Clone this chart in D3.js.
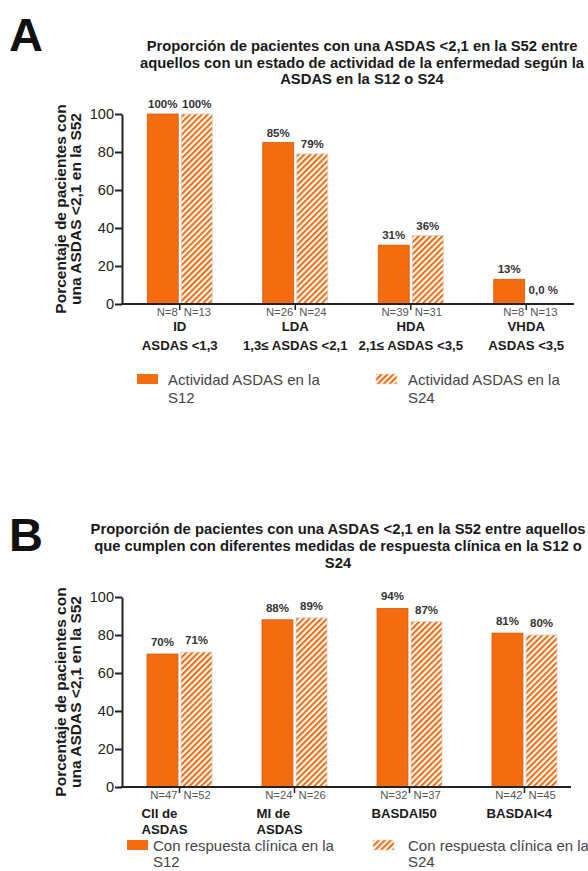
<!DOCTYPE html>
<html><head><meta charset="utf-8">
<script src="https://cdn.jsdelivr.net/npm/d3@7"></script>
<style>
html,body{margin:0;padding:0;background:#fff;}
svg text{font-family:"Liberation Sans",Arial,sans-serif;}
</style></head>
<body><svg id="c" width="588" height="871"></svg>
<script>
// ---- Data ----
const yTicks = [0, 20, 40, 60, 80, 100];
const catsA = [["ID", "ASDAS <1,3"], ["LDA", "1,3≤ ASDAS <2,1"], ["HDA", "2,1≤ ASDAS <3,5"], ["VHDA", "ASDAS <3,5"]];
const s12A = [100, 85, 31, 13];
const s24A = [100, 79, 36, 0];
const lab12A = ["100%", "85%", "31%", "13%"];
const lab24A = ["100%", "79%", "36%", "0,0 %"];
const n12A = ["N=8", "N=26", "N=39", "N=8"];
const n24A = ["N=13", "N=24", "N=31", "N=13"];
const titleA = ["Proporción de pacientes con una ASDAS <2,1 en la S52 entre", "aquellos con un estado de actividad de la enfermedad según la", "ASDAS en la S12 o S24"];
const legendA = [["Actividad ASDAS en la", "S12"], ["Actividad ASDAS en la", "S24"]];

const catsB = [["CII de", "ASDAS"], ["MI de", "ASDAS"], ["BASDAI50"], ["BASDAI<4"]];
const s12B = [70, 88, 94, 81];
const s24B = [71, 89, 87, 80];
const lab12B = ["70%", "88%", "94%", "81%"];
const lab24B = ["71%", "89%", "87%", "80%"];
const n12B = ["N=47", "N=24", "N=32", "N=42"];
const n24B = ["N=52", "N=26", "N=37", "N=45"];
const titleB = ["Proporción de pacientes con una ASDAS <2,1 en la S52 entre aquellos", "que cumplen con diferentes medidas de respuesta clínica en la S12 o", "S24"];
const legendB = [["Con respuesta clínica en la", "S12"], ["Con respuesta clínica en la", "S24"]];
const yTitle = ["Porcentaje de pacientes con", "una ASDAS <2,1 en la S52"];

// ---- Style ----
const ORANGE = "#F36C10";
const FONT = '"Liberation Sans",Arial,sans-serif';
const svg = d3.select("#c");
const defs = svg.append("defs");
const pat = defs.append("pattern").attr("id", "hatch").attr("patternUnits", "userSpaceOnUse")
  .attr("width", 4.2).attr("height", 4.2).attr("patternTransform", "rotate(45)");
pat.append("rect").attr("width", 4.2).attr("height", 4.2).attr("fill", "#fff");
pat.append("rect").attr("width", 2.1).attr("height", 4.2).attr("fill", ORANGE);

function panel(o) {
  const g = svg.append("g");
  g.append("text").attr("x", 9).attr("y", o.letterY).attr("font-size", 47).attr("font-weight", "bold")
    .attr("fill", "#111").text(o.letter);
  o.title.forEach((t, i) => g.append("text").attr("x", o.titleX).attr("y", o.titleY + i * o.titleLH)
    .attr("text-anchor", "middle").attr("font-size", o.titleFS).attr("font-weight", "bold").attr("fill", "#1a1a1a").text(t));

  const y = d3.scaleLinear().domain([0, 100]).range([o.y0, o.y0 - 190]);
  const x = d3.scaleBand().domain(d3.range(o.s12.length)).range([o.xL, o.xL + 4 * o.step]).padding(0);
  const inner = d3.scaleBand().domain([0, 1]).range([-32.5, 32.5]).paddingInner(0.09);

  const ax = g.append("g").attr("transform", `translate(${o.xL},0)`)
    .call(d3.axisLeft(y).tickValues(yTicks).tickSize(7).tickSizeOuter(0).tickPadding(1));
  ax.select(".domain").attr("stroke", "#222").attr("stroke-width", 2);
  ax.selectAll(".tick line").attr("stroke", "#222").attr("stroke-width", 2);
  ax.selectAll(".tick text").attr("font-size", 14.5).attr("fill", "#222").style("font-family", FONT);

  const cy = o.y0 - 95 + o.yTitleShift;
  yTitle.forEach((t, i) => g.append("text")
    .attr("transform", `translate(${o.yTitleX + i * 15},${cy}) rotate(-90)`)
    .attr("text-anchor", "middle").attr("font-size", 15.5).attr("font-weight", "bold").attr("fill", "#1a1a1a").text(t));

  const series = [o.s12, o.s24];
  const labs = [o.lab12, o.lab24];
  const ns = [o.n12, o.n24];
  series.forEach((arr, si) => {
    g.selectAll(null).data(arr).enter().append("rect")
      .attr("x", (d, i) => x(i) + x.bandwidth() / 2 + inner(si))
      .attr("y", d => y(d)).attr("width", inner.bandwidth()).attr("height", d => y(0) - y(d))
      .attr("fill", si === 0 ? ORANGE : "url(#hatch)")
      .attr("stroke", si === 0 ? "#d95a0a" : "#cfcfcf").attr("stroke-width", 0.8);
    g.selectAll(null).data(arr).enter().append("text")
      .attr("x", (d, i) => x(i) + x.bandwidth() / 2 + inner(si) + inner.bandwidth() / 2)
      .attr("y", (d, i) => y(d) - o.labOff - (labs[si][i].indexOf(" ") > 0 ? 4 : 0))
      .attr("text-anchor", "middle").attr("font-size", 11.5).attr("font-weight", "bold").attr("fill", "#333")
      .text((d, i) => labs[si][i]);
    g.selectAll(null).data(arr).enter().append("text")
      .attr("x", (d, i) => x(i) + x.bandwidth() / 2 + (si === 0 ? -2 : 4))
      .attr("y", o.y0 + 12).attr("text-anchor", si === 0 ? "end" : "start")
      .attr("font-size", 11.3).attr("fill", "#555").text((d, i) => ns[si][i]);
  });
  g.selectAll(null).data(o.s12).enter().append("line")
    .attr("x1", (d, i) => x(i) + x.bandwidth() / 2).attr("x2", (d, i) => x(i) + x.bandwidth() / 2)
    .attr("y1", o.y0).attr("y2", o.y0 + 6).attr("stroke", "#222").attr("stroke-width", 1.5);
  g.append("line").attr("x1", o.xL - 1).attr("x2", o.xEnd).attr("y1", o.y0).attr("y2", o.y0)
    .attr("stroke", "#222").attr("stroke-width", 2);

  o.cats.forEach((lines, i) => {
    lines.forEach((t, j) => {
      const cx = x(i) + x.bandwidth() / 2;
      g.append("text").attr("x", o.catAlign === "middle" ? cx : cx - 38)
        .attr("y", o.catY + j * o.catLH).attr("text-anchor", o.catAlign === "middle" ? "middle" : "start")
        .attr("font-size", 13.2).attr("font-weight", "bold").attr("fill", "#1a1a1a").text(t);
    });
  });

  o.legend.forEach((lines, k) => {
    const lx = o.legX[k];
    g.append("rect").attr("x", lx).attr("y", o.legY - 10).attr("width", 21).attr("height", 10)
      .attr("fill", k === 0 ? ORANGE : "url(#hatch)").attr("stroke", k === 0 ? "none" : "#ddd").attr("stroke-width", 0.6);
    lines.forEach((t, j) => g.append("text").attr("x", lx + o.legTextDX[k]).attr("y", o.legY + 1 + j * o.legLH)
      .attr("font-size", 15).attr("fill", "#444").text(t));
  });
}

panel({ letter: "A", letterY: 51, title: titleA, titleX: 362, titleY: 51, titleLH: 16.5, titleFS: 14.8,
  s12: s12A, s24: s24A, lab12: lab12A, lab24: lab24A, n12: n12A, n24: n24A, cats: catsA,
  y0: 304, xL: 122, step: 115.5, xEnd: 574, yTitleX: 66, yTitleShift: 0, labOff: 6,
  catAlign: "middle", catY: 331, catLH: 19, legend: legendA, legX: [137, 376], legY: 384, legLH: 18,
  legTextDX: [31, 32] });

panel({ letter: "B", letterY: 551, title: titleB, titleX: 338, titleY: 534, titleLH: 17, titleFS: 14.8,
  s12: s12B, s24: s24B, lab12: lab12B, lab24: lab24B, n12: n12B, n24: n24B, cats: catsB,
  y0: 787, xL: 122, step: 115, xEnd: 571, yTitleX: 66, yTitleShift: 0, labOff: 8,
  catAlign: "start", catY: 818, catLH: 16, legend: legendB, legX: [127, 373], legY: 850, legLH: 16,
  legTextDX: [26, 35] });
</script></body></html>
